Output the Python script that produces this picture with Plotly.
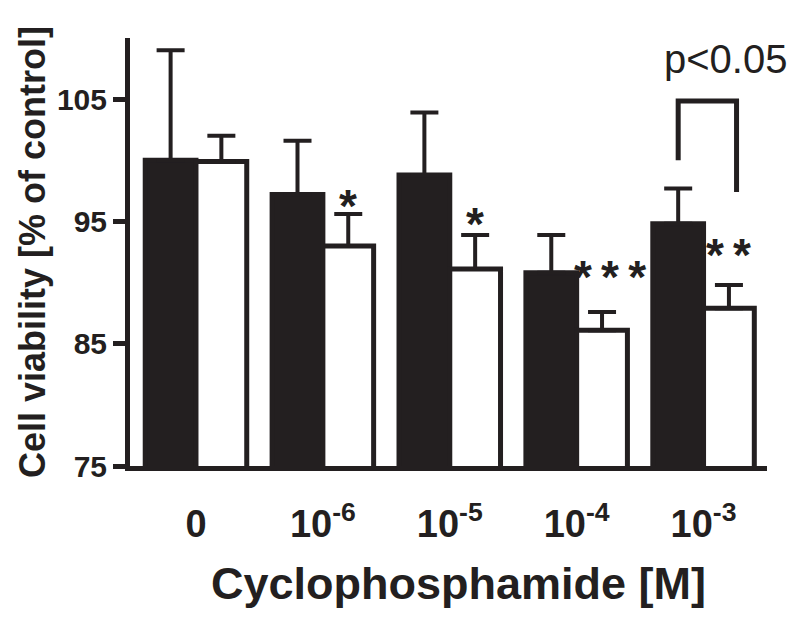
import plotly.graph_objects as go

# ---- data ----
categories = ["0", "10<sup>-6</sup>", "10<sup>-5</sup>", "10<sup>-4</sup>", "10<sup>-3</sup>"]
black_vals = [100.0, 97.2, 98.8, 90.8, 94.8]
black_err = [9.0, 4.4, 5.1, 3.1, 2.9]
white_vals = [99.9, 93.0, 91.1, 86.1, 87.9]
white_err = [2.1, 2.6, 2.8, 1.5, 1.9]
star_labels = ["", "*", "*", "***", "**"]
star_y = [None, 97.1, 95.6, 91.3, 93.1]
bracket_y = [100.0, 104.85, 97.4]
p_label = "p<0.05"
y_ticks = [75, 85, 95, 105]

DARK = "#231f20"
FONT = "Liberation Sans, Arial, sans-serif"
bargap = 0.2
bar_w = (1 - bargap) / 2
xs = list(range(len(categories)))

fig = go.Figure()
fig.add_trace(go.Bar(
    x=xs, y=black_vals, offsetgroup="a",
    marker=dict(color=DARK, line=dict(color=DARK, width=5)),
    error_y=dict(type="data", array=black_err, arrayminus=[0] * 5, symmetric=False,
                 color=DARK, thickness=4, width=14),
    showlegend=False,
))
fig.add_trace(go.Bar(
    x=xs, y=white_vals, offsetgroup="b",
    marker=dict(color="white", line=dict(color=DARK, width=5)),
    error_y=dict(type="data", array=white_err, arrayminus=[0] * 5, symmetric=False,
                 color=DARK, thickness=4, width=14),
    showlegend=False,
))

# bracket between the two bars of the last group
gi = len(categories) - 1
bl = gi - bar_w / 2
br = gi + bar_w / 2 + 0.06
fig.add_trace(go.Scatter(
    x=[bl, bl, br, br], y=[bracket_y[0], bracket_y[1], bracket_y[1], bracket_y[2]],
    mode="lines", line=dict(color=DARK, width=5), showlegend=False, hoverinfo="skip",
))

annotations = []
star_dx = [0, 0, 0, 0.06, 0]
for i, (lab, yv) in enumerate(zip(star_labels, star_y)):
    if not lab:
        continue
    txt = "<b>" + "\u2009".join(lab) + "</b>"
    annotations.append(dict(x=i + bar_w / 2 + star_dx[i], y=yv, xref="x", yref="y", text=txt,
                            showarrow=False, yanchor="middle", yshift=-10,
                            font=dict(family=FONT, size=46, color=DARK)))
annotations.append(dict(x=(bl + br) / 2 + 0.14, y=108.3, xref="x", yref="y", text=p_label,
                        showarrow=False, yanchor="middle",
                        font=dict(family=FONT, size=40, color=DARK)))
annotations.append(dict(x=0.516, y=0, xref="paper", yref="paper", yshift=-117,
                        text="<b>Cyclophosphamide [M]</b>", showarrow=False, yanchor="middle",
                        font=dict(family=FONT, size=45, color=DARK)))
annotations.append(dict(x=0, y=0.5, xref="paper", yref="paper", xshift=-98,
                        text="<b>Cell viability [% of control]</b>", showarrow=False,
                        textangle=-90, xanchor="center", yanchor="middle",
                        font=dict(family=FONT, size=36, color=DARK)))

# the page body has an 8px margin, so the figure is sized and offset to fit the window
fig.update_layout(
    width=792, height=614,
    margin=dict(l=122, r=33, t=30, b=156, autoexpand=False),
    paper_bgcolor="white", plot_bgcolor="white",
    barmode="group", bargap=bargap, bargroupgap=0,
    annotations=annotations,
    font=dict(family=FONT, color=DARK),
)
fig.update_xaxes(
    range=[-0.52, 4.5], tickmode="array", tickvals=xs,
    ticktext=["<b>" + c + "</b>" for c in categories],
    tickfont=dict(family=FONT, size=38, color=DARK),
    showline=True, linecolor=DARK, linewidth=5, ticks="", showgrid=False,
    zeroline=False, ticklabelstandoff=20, automargin=False,
)
fig.update_yaxes(
    range=[75, 110], tickmode="array", tickvals=y_ticks,
    ticktext=["<b>%d</b>" % t for t in y_ticks],
    tickfont=dict(family=FONT, size=30, color=DARK),
    showline=True, linecolor=DARK, linewidth=5, ticks="outside", ticklen=12,
    tickwidth=5, tickcolor=DARK, showgrid=False, zeroline=False, automargin=False,
)
fig.write_html("out.html")
